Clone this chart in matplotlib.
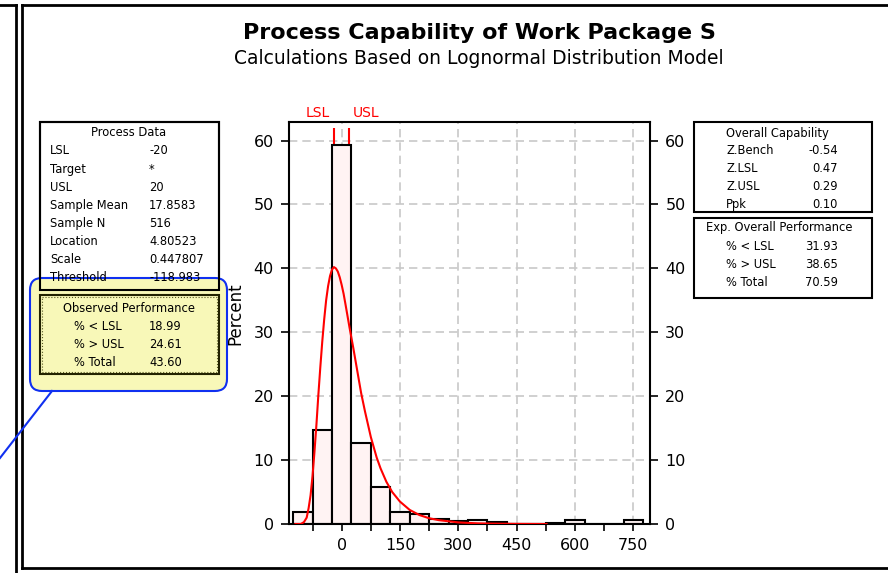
import matplotlib
matplotlib.use('Agg')
import matplotlib.pyplot as plt
from matplotlib.patches import Rectangle, FancyBboxPatch
from matplotlib.lines import Line2D
from matplotlib.transforms import Affine2D

plt.rcParams['font.family'] = ['DejaVu Sans']

W, H = 888, 573

# histogram (percent per bin of width 50)
bin_centers = [-100, -50, 0, 50, 100, 150, 200, 250, 300, 350, 400, 450, 500, 550, 600, 650, 700, 750]
bin_pct = [1.9, 14.7, 59.3, 12.6, 5.8, 1.9, 1.55, 0.8, 0.4, 0.58, 0.39, 0, 0, 0.19, 0.58, 0, 0, 0.58]
bin_width = 50

# fitted lognormal curve
fit_x = [-119, -105, -97, -90, -85, -80, -75, -70, -65, -60, -55, -50, -45, -40, -35, -30, -25, -20, -15, -10,
         -5, 0, 5, 10, 20, 30, 40, 50, 60, 75, 90, 100, 115, 130, 150, 175, 200, 225, 250, 300,
         350, 400, 450, 527]
fit_pct = [0, 0, 0.3, 1.0, 2.5, 4.5, 7.5, 11.3, 15.5, 20.2, 24.5, 28.5, 32.0, 35.0, 37.2, 38.8, 39.8, 40.2, 40.0, 39.5,
           38.6, 37.4, 36.0, 34.3, 30.8, 27.5, 24.0, 20.5, 17.6, 13.6, 10.4, 8.7, 6.6, 5.0, 3.5, 2.2, 1.4, 0.9, 0.6, 0.25,
           0.1, 0.05, 0.02, 0.0]

lsl, usl = -20, 20
x_ticks = [0, 150, 300, 450, 600, 750]
y_ticks = [0, 10, 20, 30, 40, 50, 60]

process_data = [("LSL", "-20"), ("Target", "*"), ("USL", "20"), ("Sample Mean", "17.8583"),
                ("Sample N", "516"), ("Location", "4.80523"), ("Scale", "0.447807"),
                ("Threshold", "-118.983")]
observed = [("% < LSL", "18.99"), ("% > USL", "24.61"), ("% Total", "43.60")]
overall_cap = [("Z.Bench", "-0.54"), ("Z.LSL", "0.47"), ("Z.USL", "0.29"), ("Ppk", "0.10")]
exp_overall = [("% < LSL", "31.93"), ("% > USL", "38.65"), ("% Total", "70.59")]

fig = plt.figure(figsize=(W / 100, H / 100), dpi=100)
px = Affine2D().scale(1 / W, -1 / H).translate(0, 1) + fig.transFigure

## frames
for (x0, y0, x1, y1) in [(0, 5, 16, 5), (16, 5, 16, 573), (22, 5, 888, 5), (22, 5, 22, 568), (22, 568, 888, 568)]:
    fig.add_artist(Line2D([x0, x1], [y0, y1], transform=px, color='black', lw=2))

## histogram axes
ax = fig.add_axes([289 / W, 1 - 524 / H, (650 - 289) / W, (524 - 122) / H])
ax.bar(bin_centers, bin_pct, width=bin_width, facecolor='#fff3f3', edgecolor='black', lw=1.5, zorder=2)
ax.vlines([lsl, usl], 0, 61.9, colors='red', lw=1.5, zorder=1.8)
ax.plot(fit_x, fit_pct, color='red', lw=1.5, zorder=3)
ax.set_xlim(-135.5, 793)
ax.set_ylim(0, 62.9)
ax.set_xticks(x_ticks)
ax.set_xticks([t - 75 for t in x_ticks], minor=True)
ax.set_yticks(y_ticks)
ax.grid(True, which='major', color='#c8c8c8', linestyle=(0, (5, 3)), lw=1.2)
ax.set_axisbelow(True)
ax.tick_params(axis='y', left=True, right=True, labelleft=True, labelright=True,
               length=6, width=1.2, direction='out', pad=5, labelsize=11.5)
ax.tick_params(axis='x', which='both', length=5, width=1.2, direction='out', pad=5, labelsize=11.5)
for s in ax.spines.values():
    s.set_linewidth(1.5)
ax.annotate('LSL', xy=(lsl, 1), xycoords=('data', 'axes fraction'), xytext=(-3, 6.5),
            textcoords='offset points', ha='right', va='center', color='red', fontsize=10)
ax.annotate('USL', xy=(usl, 1), xycoords=('data', 'axes fraction'), xytext=(2.5, 6.5),
            textcoords='offset points', ha='left', va='center', color='red', fontsize=10)

fig.text(235, 314, 'Percent', transform=px, rotation=90, ha='center', va='center', fontsize=12)

## titles
fig.text(479, 33, 'Process Capability of Work Package S', transform=px, ha='center', va='center',
         fontsize=16, fontweight='bold')
fig.text(479, 58, 'Calculations Based on Lognormal Distribution Model', transform=px, ha='center',
         va='center', fontsize=13.5)

fs = 8.3

def rect(x0, y0, x1, y1, **kw):
    fig.add_artist(Rectangle((x0, y0), x1 - x0, y1 - y0, transform=px, **kw))

def txt(x, y, s, **kw):
    fig.text(x, y, s, transform=px, va='center', fontsize=fs, zorder=6, **kw)

## Process data box + observed performance
rect(40, 122, 219, 290, facecolor='white', edgecolor='black', lw=1.5, zorder=1)
fig.add_artist(FancyBboxPatch((30, 278), 197, 113, boxstyle='round,pad=0,rounding_size=12', transform=px,
                              facecolor='#f8f8b8', edgecolor='#1030f0', lw=1.5, zorder=2))
rect(40, 122, 219, 290, facecolor='none', edgecolor='black', lw=1.5, zorder=3)
rect(40, 295, 219, 374, facecolor='none', edgecolor='#222200', lw=1.5, zorder=3)
rect(42, 297, 217, 372, facecolor='none', edgecolor='#555522', lw=0.8, ls=':', zorder=3)
fig.add_artist(Line2D([0, 52], [458, 391], transform=px, color='#1030f0', lw=1.5))

txt(129, 133, 'Process Data', ha='center')
for i, (lab, val) in enumerate(process_data):
    y = 151 + 18.1 * i
    txt(50, y, lab, ha='left')
    txt(149, y, val, ha='left')
txt(129, 308, 'Observed Performance', ha='center')
for i, (lab, val) in enumerate(observed):
    y = 326 + 18 * i
    txt(74, y, lab, ha='left')
    txt(149, y, val, ha='left')

## right boxes
rect(694, 122, 872, 212, facecolor='white', edgecolor='black', lw=1.5)
rect(694, 218, 872, 298, facecolor='white', edgecolor='black', lw=1.5)
txt(777, 133, 'Overall Capability', ha='center')
for i, (lab, val) in enumerate(overall_cap):
    y = 151 + 17.7 * i
    txt(726, y, lab, ha='left')
    txt(838, y, val, ha='right')
txt(779, 228, 'Exp. Overall Performance', ha='center')
for i, (lab, val) in enumerate(exp_overall):
    y = 246 + 18 * i
    txt(726, y, lab, ha='left')
    txt(838, y, val, ha='right')

fig.savefig('out.png', dpi=100)
